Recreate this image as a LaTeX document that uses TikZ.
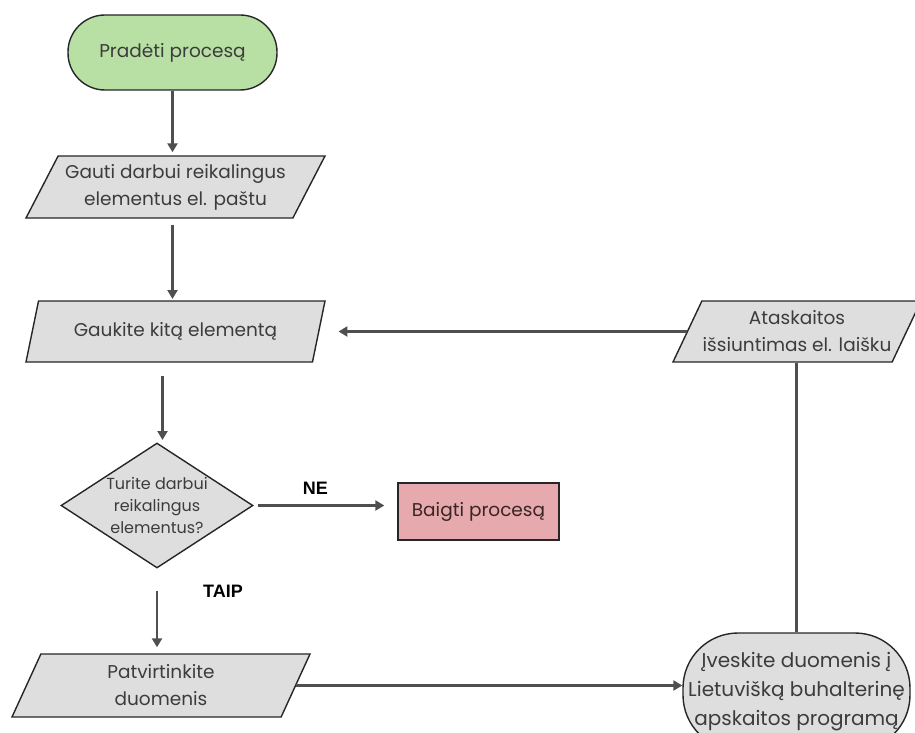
\documentclass[tikz,border=0pt]{standalone}
\usepackage{fontspec}
\setmainfont{Poppins}
\newfontfamily\labelfont{Liberation Sans}
\usetikzlibrary{shapes.geometric,arrows.meta,calc}
\definecolor{edge}{HTML}{262626}
\definecolor{txt}{HTML}{3C3C3C}
\definecolor{wire}{HTML}{4F4F4F}
\definecolor{greyfill}{HTML}{DEDEDE}
\definecolor{greenfill}{HTML}{B8E0A4}
\definecolor{pinkfill}{HTML}{E6AAAE}
\definecolor{stoptext}{HTML}{3A2424}
\begin{document}
\begin{tikzpicture}[x=1pt,y=-1pt,
  box/.style={draw=edge, line width=1.4pt, text=txt, align=center, inner sep=0pt,
    font=\fontsize{18.5}{27}\selectfont},
  para/.style={box, fill=greyfill, trapezium, trapezium left angle=55,
    trapezium right angle=125, trapezium stretches body},
  arr/.style={draw=wire, line width=2.4pt, -{Triangle[length=9pt,width=10pt]}},
  wireline/.style={draw=wire, line width=2.4pt},
  tag/.style={font=\labelfont\bfseries\fontsize{18}{20}\selectfont, text=black}
]
\useasboundingbox (0,0) rectangle (915,733);

% process steps
\node[box, fill=greenfill, rounded corners=37pt, minimum width=209pt,
      minimum height=75pt] (start) at (172.5,52.5) {Pradėti procesą};
\node[para, minimum width=299pt, minimum height=62pt] (p1) at (175.5,187)
      {Gauti darbui reikalingus\\elementus el. paštu};
\node[para, minimum width=299pt, minimum height=61pt] (p2) at (175.5,331.5)
      {Gaukite kitą elementą};
\node[box, fill=greyfill, diamond, shape aspect=1.55, inner sep=-10pt,
      minimum width=192pt, minimum height=125pt,
      font=\fontsize{16}{22}\selectfont] (d) at (157,505.5)
      {Turite darbui\\reikalingus\\elementus?};
\node[box, fill=pinkfill, minimum width=161pt, minimum height=57pt,
      text=stoptext] (stop) at (478.5,511.5) {Baigti procesą};
\node[para, minimum width=298pt, minimum height=63pt] (p3) at (161,685.5)
      {Patvirtinkite\\duomenis};
\node[box, fill=greyfill, rounded corners=55pt, minimum width=227pt,
      minimum height=117pt, font=\fontsize{20}{29}\selectfont] (inp) at (796.5,691.5)
      {Įveskite duomenis į\\Lietuvišką buhalterinę\\apskaitos programą};
\node[para, minimum width=248pt, minimum height=61pt] (rep) at (797,331.5)
      {Ataskaitos\\išsiuntimas el. laišku};

% free ends of the connectors that stand apart from the shapes
\coordinate (a2s) at (172.5,225);
\coordinate (a2e) at (172.5,299);
\coordinate (a3s) at (162.5,376);
\coordinate (a3e) at (162.5,440);

% connectors
\draw[arr, shorten >=3pt] (start.south) -- (start.south |- p1.north);
\draw[arr] (a2s) -- (a2e);
\draw[arr] (a3s) -- (a3e);
\draw[arr, shorten <=4pt, shorten >=13pt] (d.east) -- (d.east -| stop.west)
      node[tag, pos=0.43, above=6pt] {NE};
\draw[arr, shorten <=22pt, shorten >=6pt] (d.south) -- (d.south |- p3.north);
\node[tag] (yes) at (223,591) {TAIP};
\draw[arr] (p3.east) -- (p3.east -| inp.west);
\draw[wireline] (inp.north) -- (inp.north |- rep.south);
\draw[arr, shorten >=19pt] (rep.west) -- (rep.west -| p2.east);
\end{tikzpicture}
\end{document}
